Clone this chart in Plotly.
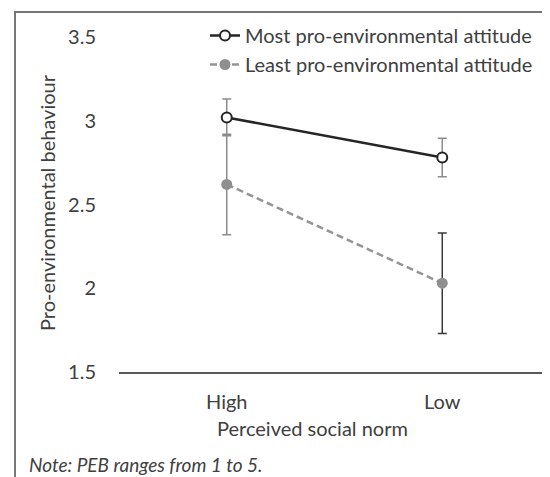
import plotly.graph_objects as go

# ---- data ----
categories = ["High", "Low"]
series_names = ["Most pro-environmental attitude", "Least pro-environmental attitude"]
most_values = [3.02, 2.78]
most_errors = [0.11, 0.115]
least_values = [2.62, 2.03]
least_errors = [0.30, 0.30]
most_error_colors = ["#8c8c8c", "#8c8c8c"]
least_error_colors = ["#8c8c8c", "#3a3a3a"]
y_ticks = [1.5, 2, 2.5, 3, 3.5]
y_tick_labels = ["1.5", "2", "2.5", "3", "3.5"]
x_title = "Perceived social norm"
y_title = "Pro-environmental behaviour"
note_text = "Note: PEB ranges from 1 to 5."

FONT = "Lato"
TXT = "#404040"
OFF = 8  # page body margin
W, H = 550 - OFF, 477 - OFF
L, R, T, B = 119 - OFF, 0, 37 - OFF, 105
PW, PH = W - L - R, H - T - B


def px_x(p):  # page pixel -> paper x
    return (p - OFF - L) / PW


def px_y(p):  # page pixel -> paper y
    return (H - B - (p - OFF)) / PH


fig = go.Figure()

# error bars (drawn first so markers sit above them)
for vals, errs, cols in [(most_values, most_errors, most_error_colors),
                         (least_values, least_errors, least_error_colors)]:
    for i in range(len(categories)):
        fig.add_trace(go.Scatter(
            x=[categories[i]], y=[vals[i]], mode="markers",
            marker=dict(size=1, opacity=0),
            error_y=dict(type="data", array=[errs[i]], color=cols[i],
                         thickness=1.5, width=4.5),
            showlegend=False, hoverinfo="skip"))

fig.add_trace(go.Scatter(
    x=categories, y=most_values, mode="lines+markers", name=series_names[0],
    line=dict(color="#262626", width=2.5),
    marker=dict(symbol="circle", size=10, color="white",
                line=dict(color="#262626", width=2)),
    legendgroup="a"))
fig.add_trace(go.Scatter(
    x=categories, y=least_values, mode="lines+markers", name=series_names[1],
    line=dict(color="#959595", width=2.5, dash="7px,4px"),
    marker=dict(symbol="circle", size=11, color="#8f8f8f",
                line=dict(color="#8f8f8f", width=0)),
    legendgroup="b"))

border = dict(color="#767676", width=2)

fig.update_layout(
    width=W, height=H,
    margin=dict(l=L, r=R, t=T, b=B, pad=0),
    paper_bgcolor="white", plot_bgcolor="white",
    font=dict(family=FONT, size=20, color=TXT),
    showlegend=True,
    legend=dict(x=px_x(205), y=px_y(16), xanchor="left", yanchor="top",
                bgcolor="rgba(0,0,0,0)", borderwidth=0,
                font=dict(family=FONT, size=20, color=TXT),
                traceorder="grouped", tracegroupgap=0, itemwidth=30),
    xaxis=dict(type="category", range=[-0.5, 1.5], showgrid=False, zeroline=False,
               showline=True, linecolor="#595959", linewidth=1.5,
               ticks="", ticklabelstandoff=11,
               tickfont=dict(family=FONT, size=20, color=TXT)),
    yaxis=dict(range=[1.5, 3.5], tickvals=y_ticks, ticktext=y_tick_labels,
               showgrid=False, zeroline=False, showline=False, ticks="",
               ticklabelstandoff=22,
               tickfont=dict(family=FONT, size=20, color=TXT)),
    shapes=[
        dict(type="line", xref="paper", yref="paper",
             x0=px_x(15), x1=px_x(15), y0=px_y(11), y1=px_y(477),
             line=border, layer="above"),
        dict(type="line", xref="paper", yref="paper",
             x0=px_x(14), x1=px_x(550), y0=px_y(12), y1=px_y(12),
             line=border, layer="above"),
    ],
    annotations=[
        dict(text=y_title, xref="paper", yref="paper", x=px_x(47), y=px_y(203),
             xanchor="center", yanchor="middle", textangle=-90, showarrow=False,
             font=dict(family=FONT, size=20, color=TXT)),
        dict(text=x_title, xref="paper", yref="paper", x=px_x(312), y=px_y(428),
             xanchor="center", yanchor="middle", showarrow=False,
             font=dict(family=FONT, size=20, color=TXT)),
        dict(text="<i>" + note_text + "</i>", xref="paper", yref="paper",
             x=px_x(27), y=px_y(464), xanchor="left", yanchor="middle",
             showarrow=False, font=dict(family=FONT, size=19, color=TXT)),
    ],
)

fig.write_html("out.html")
